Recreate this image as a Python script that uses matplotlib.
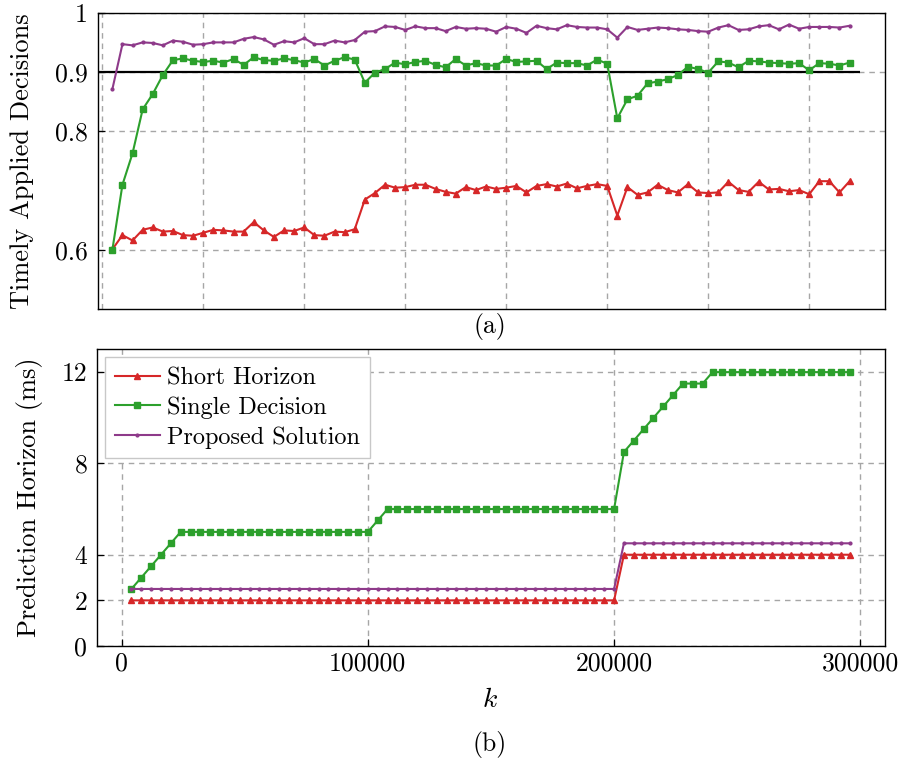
import numpy as np
import matplotlib
matplotlib.use("Agg")
import matplotlib.pyplot as plt
from matplotlib.ticker import FixedLocator, FixedFormatter

plt.rcParams['font.family'] = ['cmr10', 'DejaVu Serif']
plt.rcParams['mathtext.fontset'] = 'cm'
plt.rcParams['axes.formatter.use_mathtext'] = True

# ---------------- data ----------------
k = [4000 * (i + 1) for i in range(74)]

timely_short = [0.601, 0.625, 0.616, 0.634, 0.638, 0.631, 0.632, 0.625, 0.624, 0.629,
                0.634, 0.633, 0.631, 0.631, 0.647, 0.633, 0.622, 0.633, 0.632, 0.638,
                0.625, 0.624, 0.631, 0.630, 0.635, 0.685, 0.696, 0.710, 0.705, 0.706,
                0.710, 0.710, 0.703, 0.698, 0.695, 0.706, 0.701, 0.707, 0.703, 0.705,
                0.708, 0.697, 0.708, 0.711, 0.707, 0.712, 0.704, 0.708, 0.711, 0.708,
                0.658, 0.706, 0.693, 0.697, 0.710, 0.701, 0.697, 0.711, 0.697, 0.696,
                0.697, 0.715, 0.701, 0.698, 0.715, 0.702, 0.703, 0.699, 0.701, 0.694,
                0.716, 0.716, 0.697, 0.716]

timely_single = [0.600, 0.710, 0.763, 0.837, 0.863, 0.895, 0.920, 0.923, 0.919, 0.917,
                 0.919, 0.916, 0.922, 0.912, 0.925, 0.920, 0.919, 0.923, 0.920, 0.916,
                 0.922, 0.911, 0.919, 0.925, 0.921, 0.882, 0.899, 0.905, 0.916, 0.913,
                 0.917, 0.919, 0.912, 0.908, 0.922, 0.911, 0.915, 0.911, 0.911, 0.922,
                 0.917, 0.918, 0.919, 0.905, 0.916, 0.915, 0.915, 0.911, 0.921, 0.914,
                 0.822, 0.854, 0.860, 0.881, 0.884, 0.888, 0.895, 0.909, 0.905, 0.899,
                 0.918, 0.916, 0.908, 0.919, 0.918, 0.916, 0.915, 0.914, 0.915, 0.903,
                 0.915, 0.914, 0.911, 0.916]

timely_proposed = [0.871, 0.947, 0.945, 0.950, 0.949, 0.945, 0.953, 0.951, 0.946, 0.947,
                   0.950, 0.950, 0.950, 0.956, 0.959, 0.955, 0.946, 0.952, 0.950, 0.957,
                   0.947, 0.947, 0.953, 0.950, 0.954, 0.968, 0.969, 0.977, 0.976, 0.971,
                   0.977, 0.974, 0.974, 0.969, 0.976, 0.973, 0.974, 0.973, 0.968, 0.976,
                   0.973, 0.966, 0.978, 0.974, 0.972, 0.979, 0.976, 0.975, 0.975, 0.972,
                   0.958, 0.976, 0.971, 0.973, 0.975, 0.974, 0.972, 0.971, 0.969, 0.968,
                   0.975, 0.979, 0.971, 0.972, 0.977, 0.979, 0.972, 0.980, 0.973, 0.976,
                   0.976, 0.976, 0.975, 0.978]

horizon_short = [2.0] * 50 + [4.0] * 24
horizon_single = ([2.5, 3.0, 3.5, 4.0, 4.5] + [5.0] * 20 + [5.5] + [6.0] * 24 +
                  [8.5, 9.0, 9.5, 10.0, 10.5, 11.0, 11.5, 11.5, 11.5] + [12.0] * 15)
horizon_proposed = [2.5] * 50 + [4.5] * 24

threshold = 0.9
threshold_end = 300000

labels = ["Short Horizon", "Single Decision", "Proposed Solution"]
c_red, c_green, c_purple = "#d62728", "#2ca02c", "#8e3a8a"

# ---------------- figure ----------------
fig = plt.figure(figsize=(9.03, 7.62), dpi=100)
ax1 = fig.add_axes([0.1082, 0.5941, 0.8718, 0.3892])
ax2 = fig.add_axes([0.1074, 0.1522, 0.8726, 0.3894])

grid_kw = dict(color="#a6a6a6", linestyle=(0, (4, 3.5)), linewidth=1.0)
line_kw = dict(linewidth=1.5)
TICK_FS = 18.5
LABEL_FS = 19

def style(ax):
    for s in ax.spines.values():
        s.set_linewidth(1.0)
        s.set_color("black")
    ax.tick_params(direction="in", length=5, width=0.9, labelsize=TICK_FS,
                   top=False, right=False)
    ax.tick_params(axis="y", pad=7)
    ax.tick_params(axis="x", pad=4)
    ax.set_axisbelow(True)
    ax.grid(True, **grid_kw)

# --- top panel ---
ax1.plot(k, timely_short, color=c_red, marker="^", markersize=4.5, zorder=3, **line_kw)
ax1.plot(k, timely_single, color=c_green, marker="s", markersize=4.2, zorder=3, **line_kw)
ax1.plot(k, timely_proposed, color=c_purple, marker=".", markersize=4, zorder=3, **line_kw)
ax1.hlines(threshold, -20000, threshold_end, color="black", linewidth=1.6, zorder=2)
ax1.set_xlim(-1800, 310000)
ax1.set_ylim(0.5, 1.0)
ax1.xaxis.set_major_locator(FixedLocator(list(range(0, 300000, 40000))))
ax1.yaxis.set_major_locator(FixedLocator([0.6, 0.8, 0.9, 1.0]))
ax1.yaxis.set_major_formatter(FixedFormatter(["0.6", "0.8", "0.9", "1"]))
ax1.set_xticklabels([])
style(ax1)
ax1.tick_params(axis="x", length=0)
ax1.set_ylabel("Timely Applied Decisions", fontsize=LABEL_FS)
ax1.yaxis.set_label_coords(-0.081, 0.5)

# --- bottom panel ---
ax2.plot(k, horizon_short, color=c_red, marker="^", markersize=4.5, zorder=3,
         label=labels[0], **line_kw)
ax2.plot(k, horizon_single, color=c_green, marker="s", markersize=4.2, zorder=3,
         label=labels[1], **line_kw)
ax2.plot(k, horizon_proposed, color=c_purple, marker=".", markersize=4, zorder=3,
         label=labels[2], **line_kw)
ax2.set_xlim(-10000, 310000)
ax2.set_ylim(0, 13)
xt = [0, 100000, 200000, 300000]
ax2.xaxis.set_major_locator(FixedLocator(xt))
ax2.xaxis.set_major_formatter(FixedFormatter([str(v) for v in xt]))
yt = [0, 2, 4, 8, 12]
ax2.yaxis.set_major_locator(FixedLocator(yt))
ax2.yaxis.set_major_formatter(FixedFormatter([str(v) for v in yt]))
style(ax2)
ax2.set_ylabel("Prediction Horizon (ms)", fontsize=LABEL_FS)
ax2.yaxis.set_label_coords(-0.0685, 0.5)

leg = ax2.legend(loc="upper left", fontsize=17.5, frameon=True, fancybox=False,
                 edgecolor="#c8c8c8", framealpha=1.0, handlelength=1.85,
                 borderaxespad=0.33, borderpad=0.4, labelspacing=0.3,
                 handletextpad=0.3)
leg.get_frame().set_linewidth(1.0)

fig.text(0.5426, 1 - 700 / 762, "$k$", ha="center", va="center", fontsize=20)
fig.text(0.5426, 1 - 327 / 762, "(a)", ha="center", va="center", fontsize=18.5)
fig.text(0.5426, 1 - 745 / 762, "(b)", ha="center", va="center", fontsize=18.5)

fig.savefig("out.png", dpi=100)
